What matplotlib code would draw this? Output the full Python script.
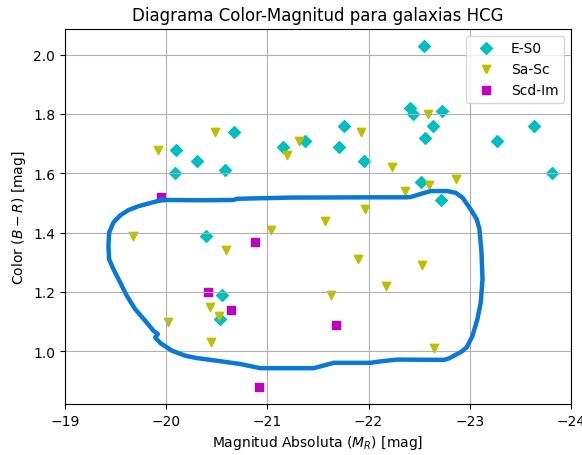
"""Diagrama color-magnitud para galaxias HCG, con el contorno de referencia."""
import matplotlib
matplotlib.use("Agg")
import matplotlib.pyplot as plt

# E-S0 (elipticas y lenticulares)
mr_e = [-22.55, -22.41, -22.44, -22.73, -22.64, -22.56, -21.76, -21.71,
        -21.95, -22.52, -22.72, -23.27, -23.63, -23.81, -20.10, -20.09,
        -20.30, -20.67, -20.58, -21.15, -21.37, -20.39, -20.55, -20.53]
br_e = [2.03, 1.82, 1.80, 1.81, 1.76, 1.72, 1.76, 1.69,
        1.64, 1.57, 1.51, 1.71, 1.76, 1.60, 1.68, 1.60,
        1.64, 1.74, 1.61, 1.69, 1.71, 1.39, 1.19, 1.11]

# Sa-Sc
mr_s = [-19.92, -20.48, -21.31, -21.19, -22.59, -21.93, -22.23, -22.86,
        -22.60, -22.36, -21.96, -21.57, -21.90, -22.53, -22.17, -21.63,
        -22.65, -19.67, -21.04, -20.59, -20.43, -20.52, -20.02, -20.44]
br_s = [1.68, 1.74, 1.71, 1.66, 1.80, 1.74, 1.62, 1.58,
        1.56, 1.54, 1.48, 1.44, 1.31, 1.29, 1.22, 1.19,
        1.01, 1.39, 1.41, 1.34, 1.15, 1.12, 1.10, 1.03]

# Scd-Im
mr_i = [-19.95, -20.41, -20.64, -20.88, -20.92, -21.68]
br_i = [1.52, 1.20, 1.14, 1.37, 0.88, 1.09]

# contorno de referencia (trazado a mano)
cont_mr = [-19.957, -20.337, -20.666, -20.700, -21.228, -22.119, -22.383,
           -22.416, -22.532, -22.614, -22.779, -22.861, -22.928, -23.010,
           -23.069, -23.096, -23.116, -23.126, -23.109, -23.076, -23.027,
           -22.970, -22.911, -22.795, -22.745, -22.284, -22.119, -22.020,
           -21.656, -21.458, -20.931, -20.733, -20.502, -20.304, -20.188,
           -20.056, -19.941, -19.891, -19.918, -19.874, -19.792, -19.693,
           -19.611, -19.545, -19.478, -19.436, -19.429, -19.436, -19.478,
           -19.545, -19.627, -19.726, -19.858, -19.957]
cont_br = [1.510, 1.509, 1.510, 1.514, 1.518, 1.519, 1.519,
           1.520, 1.532, 1.540, 1.540, 1.534, 1.518, 1.478,
           1.445, 1.411, 1.333, 1.243, 1.165, 1.109, 1.052,
           1.013, 0.997, 0.976, 0.971, 0.972, 0.966, 0.961,
           0.961, 0.943, 0.943, 0.957, 0.968, 0.977, 0.985,
           1.002, 1.028, 1.047, 1.058, 1.069, 1.103, 1.142,
           1.187, 1.232, 1.277, 1.310, 1.355, 1.400, 1.434,
           1.458, 1.476, 1.489, 1.501, 1.510]

fig, ax = plt.subplots(figsize=(5.82, 4.56), dpi=100)
fig.subplots_adjust(left=0.1117, right=0.981, top=0.935, bottom=0.112)

ax.scatter(mr_e, br_e, marker="D", c="c", label="E-S0")
ax.scatter(mr_s, br_s, marker="v", c="y", label="Sa-Sc")
ax.scatter(mr_i, br_i, marker="s", c="m", label="Scd-Im")
ax.plot(cont_mr, cont_br, color="#0a78d6", lw=3.2)

ax.set_xlim(-19, -24)
ax.set_title("Diagrama Color-Magnitud para galaxias HCG")
ax.set_xlabel("Magnitud Absoluta $(M_R)$ [mag]")
ax.set_ylabel("Color $(B-R)$ [mag]")
ax.grid(True)
ax.legend(loc="upper right")

fig.savefig("out.png", dpi=100)
